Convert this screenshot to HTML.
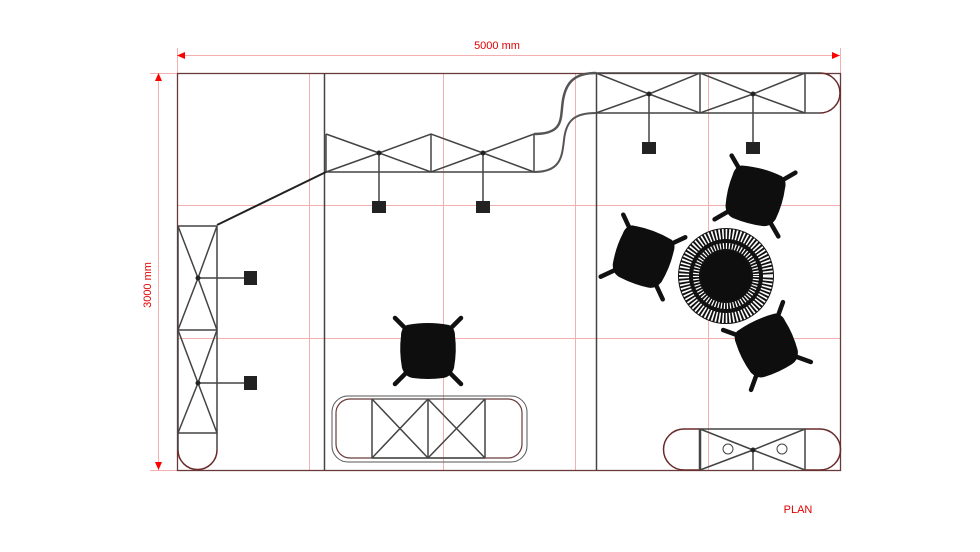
<!DOCTYPE html>
<html><head><meta charset="utf-8"><style>
html,body{margin:0;padding:0;background:#fff;}
svg{display:block;}
text{font-family:"Liberation Sans",sans-serif;}
</style></head><body>
<svg width="980" height="552" viewBox="0 0 980 552" xmlns="http://www.w3.org/2000/svg">
<defs>
<g id="chair">
  <g stroke="#111" stroke-width="4.5" stroke-linecap="round">
    <line x1="-33" y1="-33" x2="-18" y2="-18"/><line x1="33" y1="-33" x2="18" y2="-18"/>
    <line x1="-33" y1="33" x2="-18" y2="18"/><line x1="33" y1="33" x2="18" y2="18"/>
  </g>
  <path d="M-21,-26 Q0,-30 21,-26 Q27,-23 27,-15 Q29,0 26,17 Q23,26 15,27 Q0,29 -15,27 Q-23,26 -26,17 Q-29,0 -27,-15 Q-27,-23 -21,-26Z" fill="#0e0e0e"/>
</g>
</defs>
<rect width="980" height="552" fill="#fff"/>
<g stroke="#f4b0b0" stroke-width="1">
  <line x1="309.5" y1="73" x2="309.5" y2="470"/>
  <line x1="443.5" y1="73" x2="443.5" y2="470"/>
  <line x1="575.5" y1="73" x2="575.5" y2="470"/>
  <line x1="708.5" y1="73" x2="708.5" y2="470"/>
  <line x1="177" y1="205.5" x2="840" y2="205.5"/>
  <line x1="177" y1="338.5" x2="840" y2="338.5"/>
  <line x1="177.5" y1="48" x2="177.5" y2="73"/>
  <line x1="840.5" y1="48" x2="840.5" y2="73"/>
  <line x1="177" y1="55.5" x2="840" y2="55.5"/>
  <line x1="150" y1="73.5" x2="177" y2="73.5"/>
  <line x1="150" y1="470.5" x2="177" y2="470.5"/>
  <line x1="158.5" y1="73" x2="158.5" y2="470"/>
</g>
<g fill="#f00">
  <polygon points="177,55.5 185,52 185,59"/>
  <polygon points="840,55.5 832,52 832,59"/>
  <polygon points="158.5,73 155,81 162,81"/>
  <polygon points="158.5,470 155,462 162,462"/>
</g>
<text x="497" y="49" font-size="11" fill="#e00000" text-anchor="middle">5000 mm</text>
<text x="0" y="0" font-size="11" fill="#e00000" text-anchor="middle" transform="translate(151,285) rotate(-90)">3000 mm</text>
<text x="798" y="513" font-size="11" fill="#e00000" text-anchor="middle">PLAN</text>
<rect x="177.5" y="73.5" width="663" height="397" fill="none" stroke="#6a3a3a" stroke-width="1.3"/>
<g stroke="#444" stroke-width="1.5" fill="none">
  <line x1="324.5" y1="73" x2="324.5" y2="470"/>
  <line x1="596.5" y1="73" x2="596.5" y2="470"/>
  <line x1="326" y1="172" x2="534" y2="172"/>
  <line x1="326" y1="134" x2="326" y2="172"/>
  <line x1="431" y1="134" x2="431" y2="172"/>
  <line x1="534" y1="134" x2="534" y2="172"/>
  <polyline points="326,134 379,153 431,172 483,153 534,134"/>
  <polyline points="326,172 379,153 431,134 483,153 534,172"/>
  <line x1="379" y1="153" x2="379" y2="205"/>
  <line x1="483" y1="153" x2="483" y2="205"/>
  <path d="M534,134 C565,134 560,118 563,100 C566,82 575,73 596,73" stroke="#555" stroke-width="2.5"/>
  <path d="M534,172 C560,172 562,158 564,140 C566,120 575,113 596,113" stroke="#555" stroke-width="2"/>
  <line x1="217" y1="225" x2="326" y2="172" stroke="#222" stroke-width="2"/>
  <line x1="596" y1="73" x2="820" y2="73"/>
  <line x1="596" y1="113" x2="820" y2="113"/>
  <line x1="700" y1="73" x2="700" y2="113"/>
  <line x1="805" y1="73" x2="805" y2="113"/>
  <polyline points="596,73 649,94 700,113 753,94 805,73"/>
  <polyline points="596,113 649,94 700,73 753,94 805,113"/>
  <line x1="649" y1="94" x2="649" y2="145"/>
  <line x1="753" y1="94" x2="753" y2="145"/>
  <path d="M820,73 A20,20 0 0 1 820,113" stroke="#6a2a2a"/>
  <line x1="178" y1="226" x2="217" y2="226"/>
  <line x1="178" y1="330" x2="217" y2="330"/>
  <line x1="178" y1="433" x2="217" y2="433"/>
  <line x1="217" y1="226" x2="217" y2="450"/>
  <line x1="178" y1="226" x2="178" y2="450"/>
  <polyline points="178,226 198,278 217,330 198,383 178,433"/>
  <polyline points="217,226 198,278 178,330 198,383 217,433"/>
  <line x1="198" y1="278" x2="246" y2="278"/>
  <line x1="198" y1="383" x2="246" y2="383"/>
  <path d="M178,450 A19.5,19.5 0 0 0 217,450" stroke="#6a2a2a"/>
  <rect x="332" y="396" width="195" height="66" rx="16" stroke="#555" stroke-width="1"/>
  <rect x="336" y="399" width="186" height="59" rx="14" stroke="#6a3a3a" stroke-width="1.2"/>
  <line x1="372" y1="399" x2="485" y2="399" stroke-width="1"/>
  <line x1="372" y1="458" x2="485" y2="458"/>
  <line x1="372" y1="399" x2="372" y2="458"/>
  <line x1="428" y1="399" x2="428" y2="458"/>
  <line x1="485" y1="399" x2="485" y2="458"/>
  <line x1="372" y1="399" x2="428" y2="458"/><line x1="428" y1="399" x2="372" y2="458"/>
  <line x1="428" y1="399" x2="485" y2="458"/><line x1="485" y1="399" x2="428" y2="458"/>
  <path d="M700,429 L684,429 A20.5,20.5 0 0 0 684,470 L700,470" stroke="#6a2a2a"/>
  <path d="M805,429 L820,429 A20.5,20.5 0 0 1 820,470 L805,470" stroke="#6a2a2a"/>
  <line x1="700" y1="429" x2="805" y2="429"/>
  <line x1="700" y1="429" x2="700" y2="470" stroke-width="2.5"/>
  <line x1="805" y1="429" x2="805" y2="470"/>
  <polyline points="700,429 753,450 805,470"/>
  <polyline points="700,470 753,450 805,429"/>
  <line x1="753" y1="450" x2="753" y2="470"/>
  <circle cx="728" cy="449" r="5" stroke-width="1"/>
  <circle cx="782" cy="449" r="5" stroke-width="1"/>
</g>
<g fill="#222">
  <rect x="372" y="201" width="14" height="12"/>
  <rect x="476" y="201" width="14" height="12"/>
  <rect x="642" y="142" width="14" height="12"/>
  <rect x="746" y="142" width="14" height="12"/>
  <rect x="244" y="271" width="13" height="14"/>
  <rect x="244" y="376" width="13" height="14"/>
  <circle cx="379" cy="153" r="2.5"/><circle cx="483" cy="153" r="2.5"/>
  <circle cx="649" cy="94" r="2.5"/><circle cx="753" cy="94" r="2.5"/>
  <circle cx="198" cy="278" r="2.5"/><circle cx="198" cy="383" r="2.5"/>
  <circle cx="753" cy="450" r="2.5"/>
</g>
<g>
  <circle cx="726" cy="276" r="48" fill="#111"/>
  <circle cx="726" cy="276" r="42" fill="none" stroke="#fff" stroke-width="10" stroke-dasharray="1.6 1.8"/>
  <circle cx="726" cy="276" r="35.5" fill="#111"/>
  <circle cx="726" cy="276" r="30" fill="none" stroke="#fff" stroke-width="6" stroke-dasharray="1.2 1.8"/>
  <circle cx="726" cy="276" r="25" fill="#0e0e0e"/>
</g>
<use href="#chair" transform="translate(428,351)"/>
<use href="#chair" transform="translate(755,196) rotate(15)"/>
<use href="#chair" transform="translate(643,257) rotate(20)"/>
<use href="#chair" transform="translate(767,346) rotate(-25)"/>
</svg>
</body></html>
